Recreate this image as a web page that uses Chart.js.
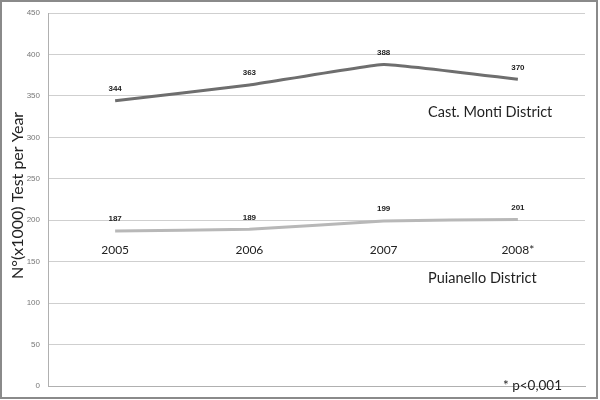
<!DOCTYPE html>
<html><head><meta charset="utf-8">
<script src="https://cdn.jsdelivr.net/npm/chart.js@4"></script>
<style>html,body{margin:0;padding:0;background:#fff}#wrap{width:600px;height:400px;position:relative}</style>
</head><body><div id="wrap"><canvas id="c" width="600" height="400"></canvas></div>
<script>
const years = ['2005', '2006', '2007', '2008*'];
const castMonti = [344, 363, 388, 370];
const puianello = [187, 189, 199, 201];
const seriesNames = ['Cast. Monti District', 'Puianello District'];
const seriesNameValues = [330, 130];
const yearLabelValue = 164;
const yTitle = 'N°(x1000) Test per Year';
const yTitleValue = 230;
const note = '* p<0,001';
const yMin = 0, yMax = 450, yStep = 50;

const FONT = 'Lato, "Open Sans", sans-serif';

const annot = {
  id: 'annot',
  afterDatasetsDraw(chart) {
    const ctx = chart.ctx, x = chart.scales.x, y = chart.scales.y, ca = chart.chartArea;
    ctx.save();
    // data labels
    ctx.font = 'bold 8px "Liberation Sans", Arial, sans-serif';
    ctx.fillStyle = '#222';
    ctx.textAlign = 'center';
    ctx.textBaseline = 'middle';
    chart.data.datasets.forEach((ds, di) => {
      chart.getDatasetMeta(di).data.forEach((pt, i) => {
        ctx.fillText(String(ds.data[i]), pt.x, pt.y - 12);
      });
    });
    // year labels
    ctx.font = '12px ' + FONT;
    ctx.fillStyle = '#222';
    years.forEach((yr, i) => {
      ctx.fillText(yr, x.getPixelForValue(i), y.getPixelForValue(yearLabelValue));
    });
    // series names
    ctx.font = '14.5px ' + FONT;
    ctx.textAlign = 'left';
    seriesNames.forEach((n, i) => {
      ctx.fillText(n, ca.right - 157, y.getPixelForValue(seriesNameValues[i]));
    });
    // note
    ctx.font = '13.5px ' + FONT;
    ctx.fillText(note, ca.right - 82, y.getPixelForValue(0));
    // y title
    ctx.translate(18, y.getPixelForValue(yTitleValue));
    ctx.rotate(-Math.PI / 2);
    ctx.textAlign = 'center';
    ctx.font = '16px ' + FONT;
    ctx.fillStyle = '#222';
    ctx.fillText(yTitle, 0, 0);
    ctx.restore();
  },
  afterDraw(chart) {
    const ctx = chart.ctx;
    ctx.save();
    ctx.strokeStyle = '#8a8a8a';
    ctx.lineWidth = 2;
    ctx.strokeRect(1, 1, 596, 397);
    ctx.restore();
  }
};

new Chart(document.getElementById('c'), {
  type: 'line',
  data: {
    labels: years,
    datasets: [
      { label: seriesNames[0], data: castMonti, borderColor: '#6e6e6e', borderWidth: 3, pointRadius: 0, tension: 0.1 },
      { label: seriesNames[1], data: puianello, borderColor: '#b8b8b8', borderWidth: 3, pointRadius: 0, tension: 0.1 }
    ]
  },
  options: {
    responsive: false,
    animation: false,
    layout: { padding: { left: 0, top: 13, right: 15, bottom: 14 } },
    plugins: { legend: { display: false }, tooltip: { enabled: false } },
    scales: {
      x: {
        type: 'category', offset: true,
        ticks: { display: false },
        grid: { display: false },
        border: { display: true, color: '#b0b0b0' },
        afterFit: s => { s.height = 0; }
      },
      y: {
        min: yMin, max: yMax,
        ticks: { stepSize: yStep, color: '#777', font: { size: 8, family: '"Liberation Sans", Arial, sans-serif' }, padding: 8 },
        grid: { color: '#cfcfcf', tickLength: 0 },
        border: { display: true, color: '#b0b0b0' },
        afterFit: s => { s.width = 48; }
      }
    }
  },
  plugins: [annot]
});
</script></body></html>
